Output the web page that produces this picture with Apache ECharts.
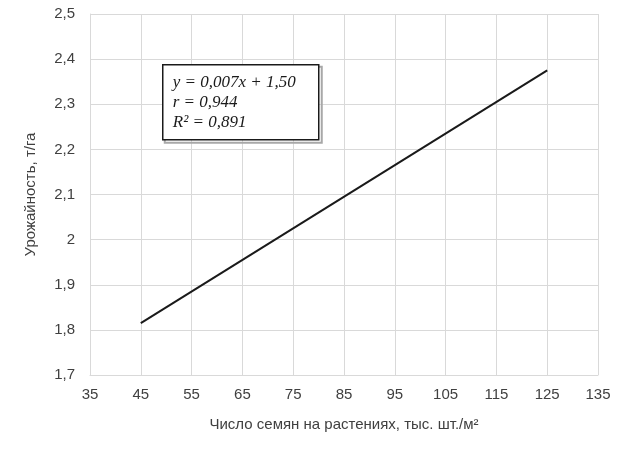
<!DOCTYPE html>
<html><head><meta charset="utf-8">
<script src="https://cdn.jsdelivr.net/npm/echarts@6/dist/echarts.min.js"></script>
<style>html,body{margin:0;padding:0;background:#fff}#c{width:630px;height:473px}</style>
</head><body><div id="c"></div>
<script>
const xValues = [45, 125];
const yValues = [1.815, 2.375];
const equationLines = ['y = 0,007x + 1,50', 'r = 0,944', 'R² = 0,891'];
const xAxisName = 'Число семян на растениях, тыс. шт./м²';
const yAxisName = 'Урожайность, т/га';

const chart = echarts.init(document.getElementById('c'));
const lineData = xValues.map((x, i) => [x, yValues[i]]);
chart.setOption({
  animation: false,
  backgroundColor: '#fff',
  grid: { left: 90, right: 32, top: 14, bottom: 98, containLabel: false },
  xAxis: {
    type: 'value', min: 35, max: 135, interval: 10,
    name: xAxisName, nameLocation: 'middle', nameGap: 42,
    nameTextStyle: { fontFamily: 'Liberation Sans', fontSize: 15, color: '#404040' },
    axisLine: { show: true, lineStyle: { color: '#d9d9d9' } },
    axisTick: { show: false },
    axisLabel: { fontFamily: 'Liberation Sans', fontSize: 15, color: '#404040', margin: 12 },
    splitLine: { show: true, lineStyle: { color: '#d9d9d9', width: 1 } }
  },
  yAxis: {
    type: 'value', min: 1.7, max: 2.5, interval: 0.1,
    name: yAxisName, nameLocation: 'middle', nameGap: 52, nameRotate: 90,
    nameTextStyle: { fontFamily: 'Liberation Sans', fontSize: 15, color: '#404040' },
    axisLine: { show: true, lineStyle: { color: '#d9d9d9' } },
    axisTick: { show: false },
    axisLabel: { fontFamily: 'Liberation Sans', fontSize: 15, color: '#404040', margin: 15,
      formatter: v => String(Math.round(v * 10) / 10).replace('.', ',') },
    splitLine: { show: true, lineStyle: { color: '#d9d9d9', width: 1 } }
  },
  series: [{
    type: 'line', data: lineData, symbol: 'none',
    lineStyle: { color: '#1a1a1a', width: 2 }
  }],
  graphic: [{
    type: 'group', left: 162, top: 64, z: 100,
    children: [
      { type: 'rect', z: 100, shape: { x: 2, y: 2, width: 157, height: 76 }, style: { fill: 'none', stroke: '#a8a8a8', lineWidth: 2 } },
      { type: 'rect', z: 101, shape: { x: 0, y: 0, width: 156, height: 75 }, style: { fill: '#fff', stroke: '#1a1a1a', lineWidth: 1.5 } },
      { type: 'text', z: 102, x: 10, y: 8, style: { text: equationLines.join('\n'), font: 'italic 17px "Liberation Serif"', fill: '#1a1a1a', lineHeight: 20 } }
    ]
  }]
});
</script></body></html>
